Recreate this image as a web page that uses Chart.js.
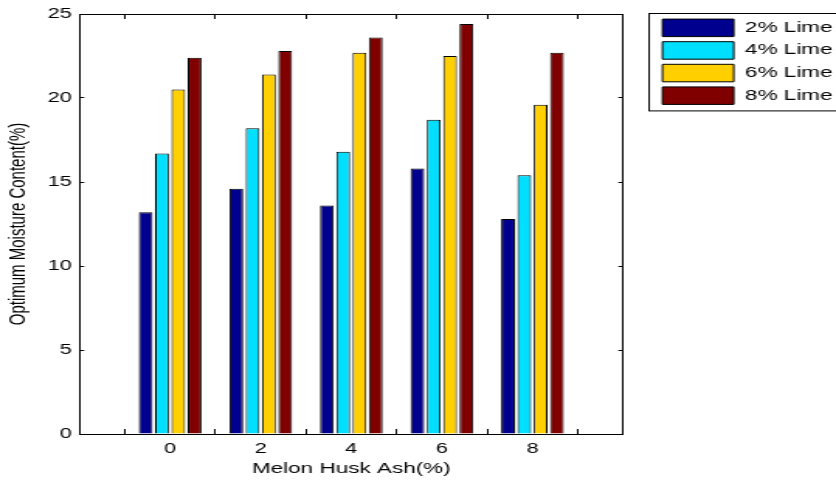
<!DOCTYPE html>
<html>
<head>
<meta charset="utf-8">
<script src="https://cdn.jsdelivr.net/npm/chart.js@4"></script>
<style>
  html, body { margin: 0; padding: 0; background: #fff; overflow: hidden; }
  #wrap { width: 539px; height: 483px; transform: scaleX(1.551); transform-origin: 0 0; }
  #chart { display: block; }
</style>
</head>
<body>
<div id="wrap"><canvas id="chart" width="539" height="483" style="width:539px;height:483px"></canvas></div>
<script>
const categories = ['0', '2', '4', '6', '8'];
const xLimits = ['-2', '10'];
const lime2 = [13.2, 14.6, 13.6, 15.8, 12.8];
const lime4 = [16.7, 18.2, 16.8, 18.7, 15.4];
const lime6 = [20.5, 21.4, 22.7, 22.5, 19.6];
const lime8 = [22.4, 22.8, 23.6, 24.4, 22.7];
const seriesNames = ['2% Lime', '4% Lime', '6% Lime', '8% Lime'];
const seriesColors = ['#00008f', '#00dfff', '#ffcf00', '#800000'];
const yTicks = [0, 5, 10, 15, 20, 25];

// the picture is stretched sideways, so the canvas is drawn narrow and widened by css
Chart.defaults.font.family = "'Liberation Sans', Arial, sans-serif";
Chart.defaults.color = '#000';

const labels = [xLimits[0], ...categories, xLimits[1]];
const pad = (arr) => [null, ...arr, null];
const series = [lime2, lime4, lime6, lime8];

const legendFrame = {
    id: 'legendFrame',
    afterDraw(chart) {
        const lg = chart.legend;
        const boxes = lg.legendHitBoxes;
        const last = boxes[boxes.length - 1];
        const ctx = chart.ctx;
        ctx.save();
        ctx.strokeStyle = '#000';
        ctx.lineWidth = 1;
        // frame runs off the right edge like in the original
        ctx.strokeRect(lg.left - 3.5, lg.top - 0.5, lg.right - lg.left + 30, last.top + last.height + 7 - lg.top);
        ctx.restore();
    }
};

const hideLimits = function (value) {
    const l = this.getLabelForValue(value);
    return (l === xLimits[0] || l === xLimits[1]) ? '' : l;
};

new Chart(document.getElementById('chart'), {
    type: 'bar',
    data: {
        labels: labels,
        datasets: series.map((vals, i) => ({
            label: seriesNames[i],
            data: pad(vals),
            backgroundColor: seriesColors[i],
            borderColor: '#000',
            borderWidth: 1,
            categoryPercentage: 0.72,
            barPercentage: 0.845
        }))
    },
    options: {
        responsive: false,
        animation: false,
        devicePixelRatio: 1,
        layout: {
            padding: { top: 14, left: 0, right: 0, bottom: 0 }
        },
        plugins: {
            legend: {
                position: 'right',
                align: 'start',
                maxWidth: 117,
                labels: {
                    boxWidth: 46,
                    boxHeight: 17.5,
                    padding: 5.1,
                    color: '#000',
                    font: { size: 14.5 }
                }
            },
            tooltip: { enabled: false }
        },
        scales: {
            x: {
                type: 'category',
                offset: false,
                grid: { drawOnChartArea: false, drawTicks: true, tickLength: -5, color: '#000' },
                border: { display: true, color: '#000', width: 1 },
                ticks: { autoSkip: false, maxRotation: 0, padding: 12, font: { size: 14 }, callback: hideLimits },
                title: { display: true, text: 'Melon Husk Ash(%)', font: { size: 14.5 }, padding: { top: 5, bottom: 5 } },
                afterFit: (scale) => { scale.height = 49; }
            },
            x2: {
                type: 'category',
                position: 'top',
                offset: false,
                grid: { drawOnChartArea: false, drawTicks: true, tickLength: -5, color: '#000' },
                border: { display: true, color: '#000', width: 1 },
                ticks: { display: false },
                afterFit: (scale) => { scale.height = 0; }
            },
            y: {
                min: yTicks[0],
                max: yTicks[yTicks.length - 1],
                grid: { drawOnChartArea: false, drawTicks: true, tickLength: -3, color: '#000' },
                border: { display: true, color: '#000', width: 1 },
                ticks: { stepSize: yTicks[1] - yTicks[0], padding: 8, font: { size: 14 } },
                title: { display: true, text: 'Optimum Moisture Content(%)', font: { size: 15 }, padding: { top: 3, bottom: 3 } },
                afterFit: (scale) => {
                    scale.width = 51.3;
                    scale.paddingTop = 0;
                    scale.paddingBottom = 0;
                }
            },
            y2: {
                position: 'right',
                min: yTicks[0],
                max: yTicks[yTicks.length - 1],
                grid: { drawOnChartArea: false, drawTicks: true, tickLength: -3, color: '#000' },
                border: { display: true, color: '#000', width: 1 },
                ticks: { display: false, stepSize: yTicks[1] - yTicks[0] },
                afterFit: (scale) => {
                    scale.width = 20.3;
                    scale.paddingTop = 0;
                    scale.paddingBottom = 0;
                }
            }
        }
    },
    plugins: [legendFrame]
});
</script>
</body>
</html>
